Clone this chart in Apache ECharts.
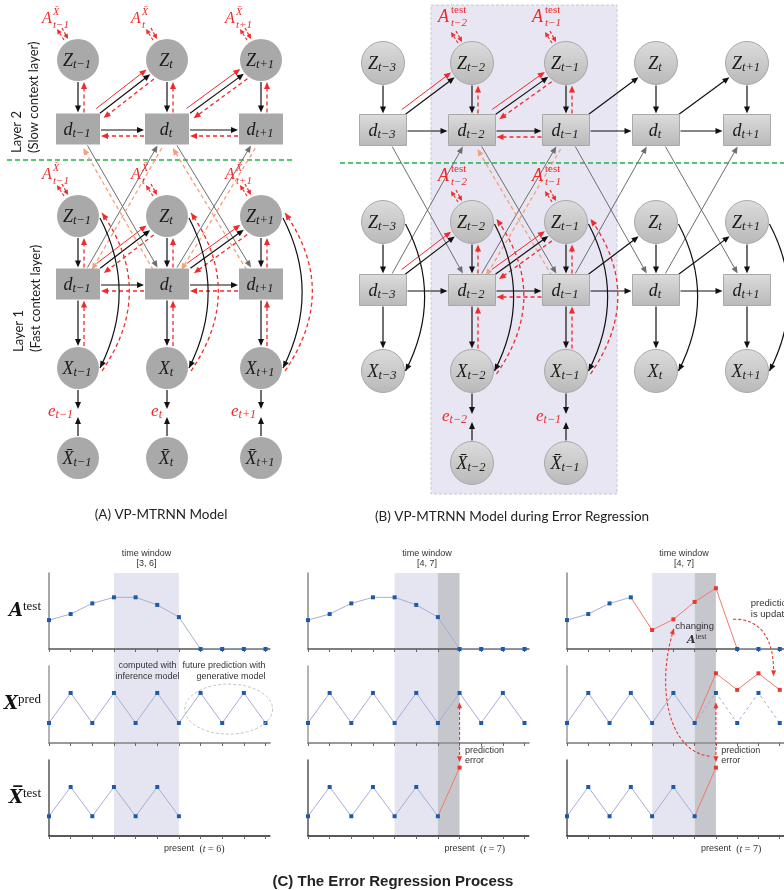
<!DOCTYPE html>
<html><head><meta charset="utf-8">
<script src="https://cdn.jsdelivr.net/npm/echarts@6.0.0/dist/echarts.min.js"></script>
<style>html,body{margin:0;padding:0;background:#fff}#c{width:784px;height:890px}</style>
</head><body><div id="c"></div>
<script>
// ===== (C) error regression panel data =====
const timeSteps = [0,1,2,3,4,5,6,7,8,9,10];
const aTest = [0.38,0.46,0.60,0.68,0.68,0.58,0.42,0,0,0,0];
const xPred = [0.26,0.65,0.26,0.65,0.26,0.65,0.26,0.65,0.26,0.65,0.26];
const xTest = [0.26,0.645,0.26,0.645,0.26,0.645,0.26];
const xTestNext = 0.90;                        // observation at t = 7
const aTestUpdated = [0.25,0.39,0.62,0.80];    // t = 4..7 after regression
const xPredUpdated = [0.905,0.69,0.905,0.69];  // t = 7..10 after regression
const windowLabels = ['[3, 6]','[4, 7]','[4, 7]'];
const windowLight = [[3,6],[4,6],[4,6]];
const windowDark = [null,[6,7],[6,7]];
const presentT = [6,7,7];
const presentText = ['6','7','7'];

// ===== (A)/(B) graph layout =====
const colA = [78,167,261];
const subA = ['t−1','t','t+1'];
const rowA = {Z2:60,d2:129,Z1:216,d1:284,X:368,Xb:458,e:412};
const colB = [383,472,566,656,747];
const subB = ['t−3','t−2','t−1','t','t+1'];
const rowB = {Z2:63,d2:130,Z1:222,d1:290,X:371,Xb:463,e:417};
const windowB = [1,2];
const windowBoxB = [431,5,617,494];
const layerDivider = [[7,160,293,160],[340,163,784,163]];

// ===== layout of (C) grids =====
const cLeft=[49,308,567], cStep=21.65, cTMax=10.2, rTop=[573,666,760], rH=[76,77,76];

const SERIF='Liberation Serif', SANS='Liberation Sans', CAL='Lato';
const RED='#ef2b2b', BLUE_PT='#1d5ba8', BLUE_LN='#a6aed6', RED_PT='#e8382f', RED_LN='#f27a6c';

const grids=[], xAxes=[], yAxes=[], series=[];
const rowAxisStyle=[{x:'#555',xw:1.5,y:'#8a8a8a'},{x:'#9a9a9a',xw:2,y:'#9a9a9a'},{x:'#222',xw:1.5,y:'#555'}];
const rowNames=[
  {name:'{a|A}{s|test}'},
  {name:'{a|X}{s|pred}'},
  {name:'{a|X\u0305}{s|test}'}
];
for(let r=0;r<3;r++){for(let c=0;c<3;c++){
  const g=r*3+c;
  grids.push({left:cLeft[c],top:rTop[r],width:cStep*cTMax,height:rH[r]});
  xAxes.push({type:'value',gridIndex:g,min:0,max:cTMax,interval:1,z:3,
    axisLine:{show:true,onZero:false,lineStyle:{color:rowAxisStyle[r].x,width:rowAxisStyle[r].xw}},
    axisTick:{show:true,length:3,customValues:timeSteps,lineStyle:{color:'#666',width:1}},
    axisLabel:{show:false},splitLine:{show:false}});
  const ya={type:'value',gridIndex:g,min:0,max:1,z:3,
    axisLine:{show:true,lineStyle:{color:rowAxisStyle[r].y,width:1.5}},
    axisTick:{show:false},axisLabel:{show:false},splitLine:{show:false}};
  if(c===0){
    ya.name=rowNames[r].name; ya.nameLocation='middle'; ya.nameRotate=0; ya.nameGap=8;
    ya.nameTextStyle={align:'right',rich:{
      a:{fontFamily:'DejaVu Serif',fontStyle:'italic',fontWeight:'bold',fontSize:18,color:'#111',lineHeight:22},
      s:{fontFamily:SERIF,fontSize:13,color:'#111',lineHeight:12,verticalAlign:'top'}}};
  }
  yAxes.push(ya);
}}
// background grids (one per column) for time-window shading
for(let c=0;c<3;c++){
  const g=9+c;
  grids.push({left:cLeft[c],top:rTop[0],width:cStep*cTMax,height:rTop[2]+rH[2]-rTop[0]});
  xAxes.push({type:'value',gridIndex:g,min:0,max:cTMax,show:false});
  yAxes.push({type:'value',gridIndex:g,min:0,max:1,show:false});
  series.push({type:'custom',xAxisIndex:g,yAxisIndex:g,z:1,silent:true,data:[[0,0]],
    renderItem:(p,api)=>{
      const ch=[];
      const L=windowLight[c], D=windowDark[c];
      const a=api.coord([L[0],1]), b=api.coord([L[1],0]);
      ch.push({type:'rect',shape:{x:a[0],y:a[1],width:b[0]-a[0],height:b[1]-a[1]},style:{fill:'#e5e5f1'}});
      if(D){const d0=api.coord([D[0],1]), d1=api.coord([D[1],0]);
        ch.push({type:'rect',shape:{x:d0[0],y:d0[1],width:d1[0]-d0[0],height:d1[1]-d0[1]},style:{fill:'#c6c6cd'}});}
      return {type:'group',children:ch};
    }});
}
// diagram grid
grids.push({left:0,top:0,width:784,height:890});
xAxes.push({type:'value',gridIndex:12,min:0,max:784,show:false});
yAxes.push({type:'value',gridIndex:12,min:0,max:890,inverse:true,show:false});

function lineS(g,data,color,ptColor,dash){
  return {type:'line',xAxisIndex:g,yAxisIndex:g,data,symbol:'rect',symbolSize:4,showSymbol:true,
    itemStyle:{color:ptColor},lineStyle:{color,width:1,type:dash?[3,3]:'solid'},animation:false,silent:true,z:4};
}
const pts=(arr,start)=>arr.map((v,i)=>[start+i,v]);
const noSym=(v)=>({value:v,symbol:'none'});
// row 1 : A^test
series.push(lineS(0,pts(aTest,0),BLUE_LN,BLUE_PT));
series.push(lineS(1,pts(aTest,0),BLUE_LN,BLUE_PT));
series.push(lineS(2,pts(aTest.slice(0,4),0),BLUE_LN,BLUE_PT));
series.push(lineS(2,[noSym([3,aTest[3]]),...pts(aTestUpdated,4),noSym([8,aTest[8]])],RED_LN,RED_PT));
series.push(lineS(2,pts(aTest.slice(8),8),BLUE_LN,BLUE_PT));
// row 2 : X^pred
series.push(lineS(3,pts(xPred,0),BLUE_LN,BLUE_PT));
series.push(lineS(4,pts(xPred,0),BLUE_LN,BLUE_PT));
series.push(lineS(5,pts(xPred.slice(0,7),0),BLUE_LN,BLUE_PT));
series.push(lineS(5,[noSym([6,xPred[6]]),...pts(xPred.slice(7),7)],BLUE_LN,BLUE_PT,true));
series.push(lineS(5,[noSym([6,xPred[6]]),...pts(xPredUpdated,7)],RED_LN,RED_PT));
// row 3 : observed X
series.push(lineS(6,pts(xTest,0),BLUE_LN,BLUE_PT));
series.push(lineS(7,pts(xTest,0),BLUE_LN,BLUE_PT));
series.push(lineS(7,[noSym([6,xTest[6]]),[7,xTestNext]],RED_LN,RED_PT));
series.push(lineS(8,pts(xTest,0),BLUE_LN,BLUE_PT));
series.push(lineS(8,[noSym([6,xTest[6]]),[7,xTestNext]],RED_LN,RED_PT));

// ===== drawing helpers =====
function unit(dx,dy){const l=Math.hypot(dx,dy)||1;return [dx/l,dy/l];}
function head(tip,u,st){const L=st.hl||7,W=st.hw||3;const n=[-u[1],u[0]];
  return {type:'polygon',shape:{points:[tip,[tip[0]-u[0]*L+n[0]*W,tip[1]-u[1]*L+n[1]*W],[tip[0]-u[0]*L-n[0]*W,tip[1]-u[1]*L-n[1]*W]]},style:{fill:st.c}};}
function arrow(p0,p1,st,startHead){
  const u=unit(p1[0]-p0[0],p1[1]-p0[1]);const L=st.hl||7;
  const b=[p1[0]-u[0]*L*0.8,p1[1]-u[1]*L*0.8];
  const a=startHead?[p0[0]+u[0]*L*0.8,p0[1]+u[1]*L*0.8]:p0;
  const els=[{type:'line',shape:{x1:a[0],y1:a[1],x2:b[0],y2:b[1]},style:{stroke:st.c,lineWidth:st.w,lineDash:st.dash||null}},head(p1,u,st)];
  if(startHead) els.push(head(p0,[-u[0],-u[1]],st));
  return els;
}
function curveArrow(p0,cp1,cp2,p1,st,startHead){
  const els=[{type:'bezierCurve',shape:{x1:p0[0],y1:p0[1],x2:p1[0],y2:p1[1],cpx1:cp1[0],cpy1:cp1[1],cpx2:cp2[0],cpy2:cp2[1]},style:{stroke:st.c,lineWidth:st.w,lineDash:st.dash||null,fill:null}}];
  els.push(head(p1,unit(p1[0]-cp2[0],p1[1]-cp2[1]),st));
  if(startHead) els.push(head(p0,unit(p0[0]-cp1[0],p0[1]-cp1[1]),st));
  return els;
}
const ST={
  black:{c:'#111',w:1.2},
  red:{c:RED,w:1},
  redDash:{c:RED,w:1.3,dash:[4,3]},
  gray:{c:'#6e6e6e',w:1},
  salmon:{c:'#f4a07a',w:1.3,dash:[4,3]},
  cRed:{c:'#e8382f',w:1.1,dash:[3,2],hl:6,hw:2.5},
  small:{c:RED,w:1.2,dash:[3,2],hl:5,hw:2.5}
};

// ===== diagram model =====
const nodes={};
const SIZE={A:{r:21,w:44,h:31},B:{r:21.5,w:47,h:31}};
function addN(key,x,y,shape,letter,sub,panel){nodes[key]={x,y,shape,letter,sub,panel,...SIZE[panel]};}
const edges=[], curves=[], eArrows=[], aLabels=[];
function buildPanel(P,cols,subs,rows,inW){
  cols.forEach((cx,i)=>{
    addN(P+'Z2'+i,cx,rows.Z2,'circle','Z',subs[i],P);
    addN(P+'d2'+i,cx,rows.d2,'rect','d',subs[i],P);
    addN(P+'Z1'+i,cx,rows.Z1,'circle','Z',subs[i],P);
    addN(P+'d1'+i,cx,rows.d1,'rect','d',subs[i],P);
    addN(P+'X'+i,cx,rows.X,'circle','X',subs[i],P);
    if(inW(i)) addN(P+'Xb'+i,cx,rows.Xb,'circle','Xb',subs[i],P);
  });
  const n=cols.length;
  for(let i=0;i<n;i++){
    for(const L of ['2','1']){
      edges.push([P+'Z'+L+i,P+'d'+L+i,'black',0,false]);
      if(inW(i)) edges.push([P+'Z'+L+i,P+'d'+L+i,'redDash',-6,true]);
      if(i<n-1){
        edges.push([P+'d'+L+i,P+'Z'+L+(i+1),'black',1,false]);
        if(inW(i+1)) edges.push([P+'d'+L+i,P+'Z'+L+(i+1),'red',-5,false]);
        if(inW(i)&&inW(i+1)) edges.push([P+'d'+L+i,P+'Z'+L+(i+1),'redDash',7,true]);
        edges.push([P+'d'+L+i,P+'d'+L+(i+1),'black',1,false]);
        if(inW(i)&&inW(i+1)) edges.push([P+'d'+L+i,P+'d'+L+(i+1),'redDash',7,true]);
      }
      if(inW(i)) aLabels.push([P+'Z'+L+i,P]);
    }
    edges.push([P+'d1'+i,P+'X'+i,'black',0,false]);
    if(inW(i)) edges.push([P+'d1'+i,P+'X'+i,'redDash',-6,true]);
    curves.push([P+'Z1'+i,P+'X'+i,'black',false]);
    if(inW(i)){ curves.push([P+'Z1'+i,P+'X'+i,'redDash',true]); eArrows.push([P,i,rows.e]); }
    if(i<n-1){
      edges.push([P+'d2'+i,P+'d1'+(i+1),'gray',0,false]);
      edges.push([P+'d1'+i,P+'d2'+(i+1),'gray',0,false]);
      if(inW(i)&&inW(i+1)){
        edges.push([P+'d2'+i,P+'d1'+(i+1),'salmon',5,true]);
        edges.push([P+'d1'+i,P+'d2'+(i+1),'salmon',5,true]);
      }
    }
  }
}
buildPanel('A',colA,subA,rowA,()=>true);
buildPanel('B',colB,subB,rowB,(i)=>windowB.includes(i));

function clipDist(nd,u){
  if(nd.shape==='circle') return nd.r+1;
  const hw=nd.w/2+1,hh=nd.h/2+1;
  const tx=Math.abs(u[0])>1e-6?hw/Math.abs(u[0]):1e9, ty=Math.abs(u[1])>1e-6?hh/Math.abs(u[1]):1e9;
  return Math.min(tx,ty);
}
const nodeFill={A:'#a9a9a9'};
function renderDiagram(params,api){
  const P=(x,y)=>api.coord([x,y]);
  const ch=[];
  // error-regression window box
  const b0=P(windowBoxB[0],windowBoxB[1]), b1=P(windowBoxB[2],windowBoxB[3]);
  ch.push({type:'rect',shape:{x:b0[0],y:b0[1],width:b1[0]-b0[0],height:b1[1]-b0[1]},style:{fill:'#e7e6f2',stroke:'#c8c8d2',lineWidth:1,lineDash:[3,2]}});
  layerDivider.forEach(s=>{const a=P(s[0],s[1]),b=P(s[2],s[3]);
    ch.push({type:'line',shape:{x1:a[0],y1:a[1],x2:b[0],y2:b[1]},style:{stroke:'#23b04a',lineWidth:1.3,lineDash:[5,3]}});});
  const pos=(k)=>{const nd=nodes[k];return P(nd.x,nd.y);};
  // straight edges (gray / salmon first)
  const ordered=edges.filter(e=>e[2]==='gray'||e[2]==='salmon').concat(edges.filter(e=>!(e[2]==='gray'||e[2]==='salmon')));
  ordered.forEach(([a,b,s,off,rev])=>{
    const A=pos(a),B=pos(b);const u=unit(B[0]-A[0],B[1]-A[1]);const n=[-u[1],u[0]];
    const da=clipDist(nodes[a],u), db=clipDist(nodes[b],u);
    const p0=[A[0]+u[0]*da+n[0]*off,A[1]+u[1]*da+n[1]*off];
    const p1=[B[0]-u[0]*db+n[0]*off,B[1]-u[1]*db+n[1]*off];
    ch.push(...(rev?arrow(p1,p0,ST[s]):arrow(p0,p1,ST[s])));
  });
  // curved Z -> X edges
  curves.forEach(([z,x,s,rev])=>{
    const Z=pos(z),X=pos(x),r=nodes[z].r;
    const red=s!=='black';
    const p0=[Z[0]+r+(red?3:1),Z[1]+(red?-3:2)], p1=[X[0]+r+(red?3:1),X[1]+(red?3:0)];
    const bul=red?27:19;
    const cp1=[p0[0]+bul*1.35,p0[1]+(p1[1]-p0[1])*0.33], cp2=[p1[0]+bul*1.35,p0[1]+(p1[1]-p0[1])*0.66];
    ch.push(...(rev?curveArrow(p1,cp2,cp1,p0,ST[s]):curveArrow(p0,cp1,cp2,p1,ST[s])));
  });
  // e arrows & labels
  eArrows.forEach(([Pn,i,ey])=>{
    const X=pos(Pn+'X'+i), Xb=pos(Pn+'Xb'+i), r=nodes[Pn+'X'+i].r;
    const e=P(nodes[Pn+'X'+i].x,ey);
    ch.push(...arrow([X[0],X[1]+r+1],[e[0],e[1]-3],ST.black));
    ch.push(...arrow([Xb[0],Xb[1]-r-1],[e[0],e[1]+5],ST.black));
    ch.push({type:'text',x:e[0]-5,y:e[1],style:{text:'{m|e}{s|'+nodes[Pn+'X'+i].sub+'}',align:'right',verticalAlign:'middle',
      rich:{m:{fontFamily:SERIF,fontStyle:'italic',fontSize:17,fill:RED,lineHeight:18},s:{fontFamily:SERIF,fontStyle:'italic',fontSize:12,fill:RED,lineHeight:10,verticalAlign:'bottom'}}}});
  });
  // nodes
  Object.keys(nodes).forEach(k=>{
    const nd=nodes[k],c=P(nd.x,nd.y);
    const fill=nd.panel==='A'?nodeFill.A:new echarts.graphic.LinearGradient(0,0,0,1,[{offset:0,color:'#dcdcdc'},{offset:1,color:'#b9b9b9'}]);
    const stroke=nd.panel==='A'?null:'#a9a9a9';
    if(nd.shape==='circle') ch.push({type:'circle',shape:{cx:c[0],cy:c[1],r:nd.r},style:{fill,stroke,lineWidth:1}});
    else ch.push({type:'rect',shape:{x:c[0]-nd.w/2,y:c[1]-nd.h/2,width:nd.w,height:nd.h},style:{fill,stroke,lineWidth:1}});
    const letter=nd.letter==='Xb'?'X\u0304':nd.letter;
    ch.push({type:'text',x:c[0]-1,y:c[1]+1,style:{text:'{m|'+letter+'}{s|'+nd.sub+'}',align:'center',verticalAlign:'middle',
      rich:{m:{fontFamily:SERIF,fontStyle:'italic',fontSize:18,fill:'#1a1a1a',lineHeight:20},s:{fontFamily:SERIF,fontStyle:'italic',fontSize:12.5,fill:'#1a1a1a',lineHeight:12,verticalAlign:'bottom'}}}});
  });
  // A labels above Z nodes
  aLabels.forEach(([k,Pn])=>{
    const nd=nodes[k],c=P(nd.x,nd.y);
    const isB=Pn==='B';
    const x0=c[0]+(isB?-34:-36), y0=c[1]+(isB?-46:-41);
    ch.push({type:'text',x:x0,y:y0,style:{text:'A',fontFamily:SERIF,fontStyle:'italic',fontSize:isB?18:16,fill:RED,align:'left',verticalAlign:'middle'}});
    ch.push({type:'text',x:x0+(isB?13:11),y:y0-7,style:{text:isB?'test':'X\u0304',fontFamily:SERIF,fontStyle:isB?'normal':'italic',fontSize:isB?11:10,fill:RED,align:'left',verticalAlign:'middle'}});
    ch.push({type:'text',x:x0+(isB?13:11),y:y0+6,style:{text:nd.sub,fontFamily:SERIF,fontStyle:'italic',fontSize:11,fill:RED,align:'left',verticalAlign:'middle'}});
    ch.push(...arrow([c[0]-16,c[1]-32],[c[0]-10,c[1]-21],ST.small));
    ch.push(...arrow([c[0]-14,c[1]-20],[c[0]-21,c[1]-31],ST.small));
  });
  // layer labels
  const l2=P(8,153), l1=P(10,352);
  ch.push({type:'text',x:l2[0],y:l2[1],rotation:Math.PI/2,style:{text:'Layer 2\n(Slow context layer)',fontFamily:CAL,fontSize:13,lineHeight:17,fill:'#222',align:'left',verticalAlign:'top'}});
  ch.push({type:'text',x:l1[0],y:l1[1],rotation:Math.PI/2,style:{text:'Layer 1\n(Fast context layer)',fontFamily:CAL,fontSize:13,lineHeight:17,fill:'#222',align:'left',verticalAlign:'top'}});
  // captions
  const ca=P(161,515), cb=P(512,517), cc=P(393,882);
  ch.push({type:'text',x:ca[0],y:ca[1],style:{text:'(A) VP-MTRNN Model',fontFamily:CAL,fontSize:13.5,fill:'#222',align:'center',verticalAlign:'middle'}});
  ch.push({type:'text',x:cb[0],y:cb[1],style:{text:'(B) VP-MTRNN Model during Error Regression',fontFamily:CAL,fontSize:13.5,fill:'#222',align:'center',verticalAlign:'middle'}});
  ch.push({type:'text',x:cc[0],y:cc[1],style:{text:'(C) The Error Regression Process',fontFamily:SANS,fontWeight:'bold',fontSize:15,fill:'#222',align:'center',verticalAlign:'middle'}});
  return {type:'group',children:ch};
}
series.push({type:'custom',xAxisIndex:12,yAxisIndex:12,z:6,silent:true,data:[[0,0]],renderItem:renderDiagram});

// ===== annotations in (C) =====
function T(api,t,v,text,o){o=o||{};const p=api.coord([t,v]);
  return {type:'text',x:p[0],y:p[1],style:Object.assign({text,fontFamily:SANS,fontSize:9,fill:'#333',align:'center',verticalAlign:'middle'},o)};}
function ann(g,build){series.push({type:'custom',xAxisIndex:g,yAxisIndex:g,z:7,silent:true,data:[[0,0]],
  renderItem:(p,api)=>({type:'group',children:build(api)})});}
[0,1,2].forEach(c=>ann(c,api=>{
  const mid=(windowLight[c][0]+(windowDark[c]?windowDark[c][1]:windowLight[c][1]))/2;
  return [T(api,mid,1.25,'time window'),T(api,mid,1.12,windowLabels[c])];
}));
ann(3,api=>{
  const ch=[T(api,4.55,1.0,'computed with'),T(api,4.55,0.86,'inference model'),
    T(api,10,1.0,'future prediction with',{align:'right'}),T(api,10,0.86,'generative model',{align:'right'})];
  const c=api.coord([8.3,0.44]), e=api.coord([10.33,0.115]);
  const rx=e[0]-c[0], ry=e[1]-c[1]; const ptsE=[];
  for(let k=0;k<=72;k++){const a=k/72*Math.PI*2;ptsE.push([c[0]+rx*Math.cos(a),c[1]+ry*Math.sin(a)]);}
  ch.push({type:'polyline',shape:{points:ptsE},style:{stroke:'#c4c4c4',lineWidth:1,lineDash:[3,2],fill:null}});
  return ch;
});
[4,5].forEach(g=>ann(g,api=>{
  const ch=[];
  ch.push(...arrow(api.coord([7,0.53]),api.coord([7,-0.25]),ST.cRed,true));
  ch.push(T(api,7.25,-0.1,'prediction',{align:'left'}),T(api,7.25,-0.23,'error',{align:'left'}));
  if(g===5){
    ch.push(...curveArrow(api.coord([6.7,-0.17]),api.coord([4.85,-0.12]),api.coord([4.11,0.69]),api.coord([5.03,1.49]),ST.cRed));
  }
  return ch;
}));
ann(2,api=>{
  const ch=[T(api,6.0,0.30,'changing',{fontSize:9.5}),
    T(api,6.1,0.12,'{a|A}{s|test}',{rich:{a:{fontFamily:'DejaVu Serif',fontStyle:'italic',fontWeight:'bold',fontSize:11,fill:'#333',lineHeight:13},s:{fontFamily:SERIF,fontSize:8,fill:'#333',lineHeight:8,verticalAlign:'top'}}}),
    T(api,8.64,0.60,'prediction',{align:'left',fontSize:9.5}),T(api,8.64,0.46,'is updated',{align:'left',fontSize:9.5})];
  ch.push(...curveArrow(api.coord([7.81,0.39]),api.coord([9.1,0.41]),api.coord([9.79,0.12]),api.coord([9.7,-0.36]),ST.cRed));
  return ch;
});
[6,7,8].forEach((g,c)=>ann(g,api=>[
  T(api,presentT[c],-0.17,'present'),
  T(api,presentT[c]+0.95,-0.17,'({i|t} = '+presentText[c]+')',{align:'left',fontFamily:SERIF,fontSize:10,rich:{i:{fontFamily:SERIF,fontStyle:'italic',fontSize:10,fill:'#333'}}})
]));

const chart=echarts.init(document.getElementById('c'),null,{renderer:'canvas'});
chart.setOption({animation:false,backgroundColor:'#fff',grid:grids,xAxis:xAxes,yAxis:yAxes,series});
</script></body></html>
